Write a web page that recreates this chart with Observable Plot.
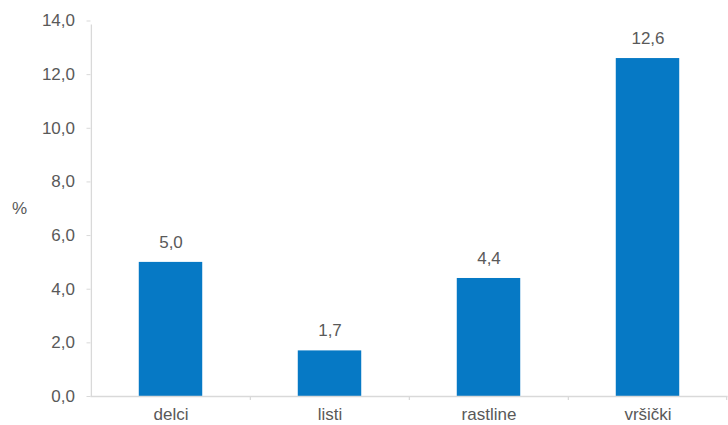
<!DOCTYPE html>
<html>
<head>
<meta charset="utf-8">
<script src="https://cdn.jsdelivr.net/npm/d3@7"></script>
<script src="https://cdn.jsdelivr.net/npm/@observablehq/plot@0.6"></script>
<style>
  html, body { margin: 0; padding: 0; background: #fff; }
  svg { font-family: "Liberation Sans", Arial, sans-serif; }
</style>
</head>
<body>
<div id="chart"></div>
<script>
const categories = ["delci", "listi", "rastline", "vršički"];
const values = [5.0, 1.7, 4.4, 12.6];
const yTicks = [0, 2, 4, 6, 8, 10, 12, 14];

const data = categories.map((c, i) => ({cat: c, val: values[i]}));
const fmt = v => v.toFixed(1).replace(".", ",");

const width = 728, height = 425;
const marginLeft = 90.5, marginRight = 0.5, marginTop = 20.5, marginBottom = 29;
const bw = (width - marginLeft - marginRight) / categories.length;
const barInset = bw * 0.3;
const gray = "#595959";
const lineGray = "#d9d9d9";

const chart = Plot.plot({
  width, height, marginLeft, marginRight, marginTop, marginBottom,
  style: {fontFamily: "'Liberation Sans', Arial, sans-serif", fontSize: "17px", color: gray, background: "#fff"},
  x: {domain: categories, padding: 0, label: null},
  y: {domain: [0, 14], label: null},
  marks: [
    Plot.barY(data, {x: "cat", y: "val", fill: "#0679c5", insetLeft: barInset, insetRight: barInset}),
    Plot.ruleY([0], {stroke: lineGray, strokeWidth: 1.3}),
    // y axis line (extends slightly below the x axis)
    Plot.ruleX([categories[0]], {x: d => d, dx: -bw / 2, y1: 0, y2: 14, insetBottom: -4, stroke: lineGray, strokeWidth: 1.3}),
    // category boundary ticks
    Plot.ruleX(categories.slice(1), {x: d => d, dx: -bw / 2, y1: 0, y2: 0, insetBottom: -4, stroke: lineGray, strokeWidth: 1.3}),
    Plot.ruleX([categories[categories.length - 1]], {x: d => d, dx: bw / 2 - 1, y1: 0, y2: 0, insetBottom: -4, stroke: lineGray, strokeWidth: 1.3}),
    Plot.axisY({ticks: yTicks, tickFormat: fmt, tickSize: 4, tickPadding: 12, stroke: lineGray, fill: gray, label: null, fontSize: 17}),
    Plot.axisX({tickSize: 0, tickPadding: 11, fill: gray, label: null, fontSize: 17}),
    Plot.text(data, {x: "cat", y: "val", text: d => fmt(d.val), dy: -20, fill: gray, fontSize: 17}),
    Plot.text(["%"], {frameAnchor: "left", dx: -79, textAnchor: "start", fill: gray, fontSize: 17})
  ]
});
document.getElementById("chart").appendChild(chart);
</script>
</body>
</html>
